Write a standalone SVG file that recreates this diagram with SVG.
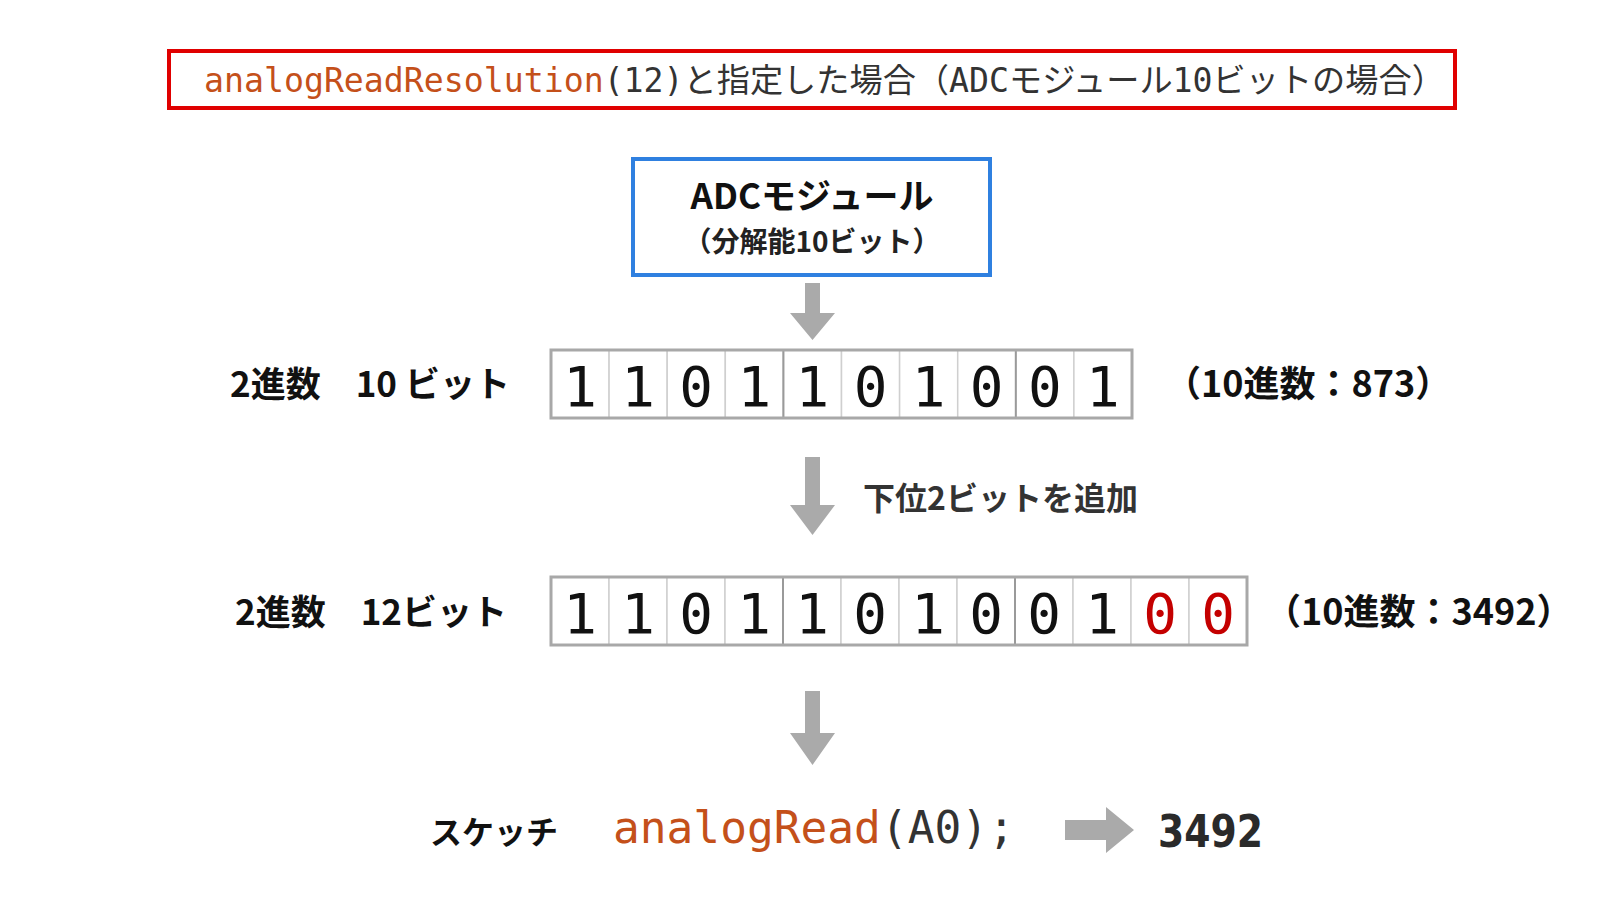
<svg xmlns="http://www.w3.org/2000/svg" width="1624" height="914" viewBox="0 0 1624 914">
<defs>
<style>
.mono{font-family:"DejaVu Sans Mono","Noto Sans CJK JP",monospace;}
.jp{font-family:"Noto Sans CJK JP",sans-serif;font-weight:700;}
.org{fill:#c4501a;}
.dk{fill:#333;}
.cell{fill:#fff;stroke:#cfcfcf;stroke-width:1.5;}
.frame{fill:none;stroke:#a8a8a8;stroke-width:3;}
.sep{stroke:#9a9a9a;stroke-width:2;}
.dig{font-family:"DejaVu Sans Mono",monospace;font-size:56px;fill:#111;text-anchor:middle;}
.red{fill:#c40000;}
.arr{fill:#aaaaaa;}
.lbl{font-family:"Noto Sans CJK JP",sans-serif;font-weight:700;font-size:35px;fill:#111;}
</style>
</defs>
<rect width="1624" height="914" fill="#fff"/>

<g id="title">
<rect x="169" y="51" width="1286" height="57" fill="#fff" stroke="#e00000" stroke-width="4"/>
<text class="mono" x="204" y="92" font-size="33.2"><tspan class="org">analogReadResolution</tspan><tspan class="dk">(12)と指定した場合（ADCモジュール10ビットの場合）</tspan></text>
</g>

<g id="adc">
<rect x="633" y="159" width="357" height="116" fill="#fff" stroke="#2f80e0" stroke-width="4"/>
<text class="jp" x="812" y="209" font-size="35" fill="#111" text-anchor="middle">ADCモジュール</text>
<text class="jp" x="812" y="252" font-size="28" fill="#222" font-weight="600" text-anchor="middle">（分解能10ビット）</text>
</g>

<g id="row10">
<text class="lbl" x="230" y="397">2進数　10 ビット</text>
<g>
<rect class="cell" x="551" y="350" width="58.1" height="68"/>
<rect class="cell" x="609.1" y="350" width="58.1" height="68"/>
<rect class="cell" x="667.2" y="350" width="58.1" height="68"/>
<rect class="cell" x="725.3" y="350" width="58.1" height="68"/>
<rect class="cell" x="783.4" y="350" width="58.1" height="68"/>
<rect class="cell" x="841.5" y="350" width="58.1" height="68"/>
<rect class="cell" x="899.6" y="350" width="58.1" height="68"/>
<rect class="cell" x="957.7" y="350" width="58.1" height="68"/>
<rect class="cell" x="1015.8" y="350" width="58.1" height="68"/>
<rect class="cell" x="1073.9" y="350" width="58.1" height="68"/>
<line class="sep" x1="783.4" y1="350" x2="783.4" y2="418"/>
<line class="sep" x1="1015.8" y1="350" x2="1015.8" y2="418"/>
<rect class="frame" x="551" y="350" width="581" height="68"/>
</g>
<text class="dig" y="406"><tspan x="580">1</tspan><tspan x="638.1">1</tspan><tspan x="696.2">0</tspan><tspan x="754.3">1</tspan><tspan x="812.4">1</tspan><tspan x="870.5">0</tspan><tspan x="928.6">1</tspan><tspan x="986.7">0</tspan><tspan x="1044.8">0</tspan><tspan x="1102.9">1</tspan></text>
<text class="lbl" x="1165" y="397" style="font-size:36px">（10進数：873）</text>
</g>

<g id="row12">
<text class="lbl" x="235" y="625">2進数　12ビット</text>
<g>
<rect class="cell" x="551" y="577" width="58" height="68"/>
<rect class="cell" x="609" y="577" width="58" height="68"/>
<rect class="cell" x="667" y="577" width="58" height="68"/>
<rect class="cell" x="725" y="577" width="58" height="68"/>
<rect class="cell" x="783" y="577" width="58" height="68"/>
<rect class="cell" x="841" y="577" width="58" height="68"/>
<rect class="cell" x="899" y="577" width="58" height="68"/>
<rect class="cell" x="957" y="577" width="58" height="68"/>
<rect class="cell" x="1015" y="577" width="58" height="68"/>
<rect class="cell" x="1073" y="577" width="58" height="68"/>
<rect class="cell" x="1131" y="577" width="58" height="68"/>
<rect class="cell" x="1189" y="577" width="58" height="68"/>
<line class="sep" x1="783" y1="577" x2="783" y2="645"/>
<line class="sep" x1="1015" y1="577" x2="1015" y2="645"/>
<rect class="frame" x="551" y="577" width="696" height="68"/>
</g>
<text class="dig" y="633"><tspan x="580">1</tspan><tspan x="638">1</tspan><tspan x="696">0</tspan><tspan x="754">1</tspan><tspan x="812">1</tspan><tspan x="870">0</tspan><tspan x="928">1</tspan><tspan x="986">0</tspan><tspan x="1044">0</tspan><tspan x="1102">1</tspan><tspan x="1160" class="red">0</tspan><tspan x="1218" class="red">0</tspan></text>
<text class="lbl" x="1265" y="625" style="font-size:36px">（10進数：3492）</text>
</g>

<g id="note">
<text class="jp" x="863" y="510" font-size="32" fill="#333">下位2ビットを追加</text>
</g>

<g id="sketch">
<text class="lbl" x="430" y="844" style="font-size:32px">スケッチ</text>
<text class="mono" x="613" y="843" font-size="44.5"><tspan class="org">analogRead</tspan><tspan class="dk">(A0);</tspan></text>
<text x="1158" y="847" font-family="'DejaVu Sans','Noto Sans',sans-serif" font-weight="700" font-size="44" fill="#2a2a2a" textLength="105" lengthAdjust="spacingAndGlyphs">3492</text>
</g>

<g id="connectors">
<polygon class="arr" points="805,283 820,283 820,313 835,313 812.5,340 790,313 805,313"/>
<polygon class="arr" points="805,457 820,457 820,505 835,505 812.5,535 790,505 805,505"/>
<polygon class="arr" points="805,691 820,691 820,733 835,733 812.5,765 790,733 805,733"/>
<polygon class="arr" points="1065,820 1106,820 1106,807 1134,830 1106,853 1106,840 1065,840"/>
</g>
</svg>
